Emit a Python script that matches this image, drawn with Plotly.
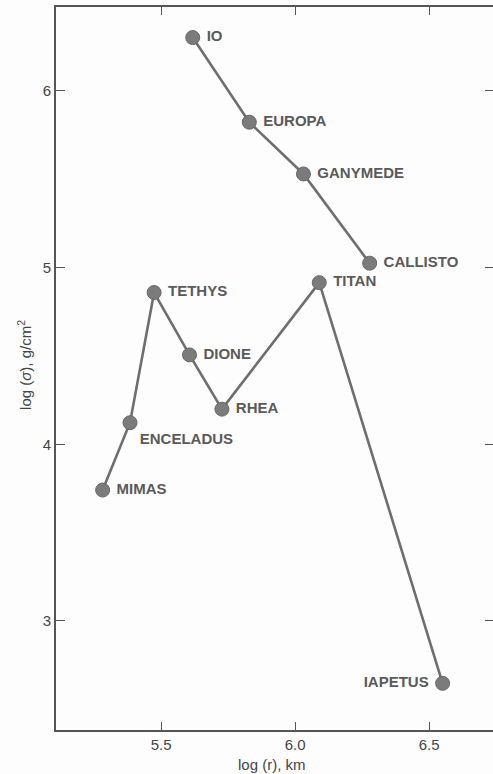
import plotly.graph_objects as go

# Jupiter satellites
jup_names = ["IO", "EUROPA", "GANYMEDE", "CALLISTO"]
jup_logr = [5.618, 5.829, 6.031, 6.278]
jup_logsigma = [6.302, 5.823, 5.530, 5.025]

# Saturn satellites
sat_names = ["MIMAS", "ENCELADUS", "TETHYS", "DIONE", "RHEA", "TITAN", "IAPETUS"]
sat_logr = [5.282, 5.384, 5.474, 5.606, 5.727, 6.090, 6.550]
sat_logsigma = [3.741, 4.122, 4.859, 4.506, 4.199, 4.915, 2.647]

x_ticks = [5.5, 6.0, 6.5]
x_tick_labels = ["5.5", "6.0", "6.5"]
y_ticks = [3, 4, 5, 6]
y_tick_labels = ["3", "4", "5", "6"]

jup_textpos = ["middle right"] * 4
sat_textpos = ["middle right", "bottom right", "middle right", "middle right",
               "middle right", "middle right", "middle left"]

LINE = "#6e6e6e"
MARK = "#7b7b7b"
TEXT = "#5a5a5a"
FONT = "Liberation Sans"

fig = go.Figure()
for xs, ys, names, tp in [(jup_logr, jup_logsigma, jup_names, jup_textpos),
                          (sat_logr, sat_logsigma, sat_names, sat_textpos)]:
    fig.add_trace(go.Scatter(
        x=xs, y=ys, mode="lines+markers+text",
        text=[(" " + n + " ") if p != "bottom right" else n for n, p in zip(names, tp)],
        textposition=tp,
        textfont=dict(family=FONT, size=15, color=TEXT, weight="bold"),
        line=dict(color=LINE, width=2.6),
        marker=dict(size=14, color=MARK, line=dict(color="#686868", width=1)),
        showlegend=False, cliponaxis=False,
    ))

# invisible trace for right-side ticks
fig.add_trace(go.Scatter(x=[jup_logr[0]], y=[jup_logsigma[0]], yaxis="y2",
                         mode="markers", marker=dict(opacity=0), showlegend=False,
                         hoverinfo="skip"))

xr = [5.108, 6.738]
yr = [2.383, 6.475]

fig.update_layout(
    width=493, height=774,
    margin=dict(l=56, r=0, t=7, b=44),
    paper_bgcolor="#fdfdfd", plot_bgcolor="#fdfdfd",
    font=dict(family=FONT, color="#444444", size=14),
    xaxis=dict(range=xr, tickvals=x_ticks, ticktext=x_tick_labels,
               ticks="inside", ticklen=8, tickwidth=1.3, tickcolor="#555",
               showline=True, linecolor="#555", linewidth=1.6, mirror="ticks",
               showgrid=False, zeroline=False, automargin=False,
               tickfont=dict(size=15, color="#444")),
    yaxis=dict(range=yr, tickvals=y_ticks, ticktext=y_tick_labels,
               ticks="inside", ticklen=9, tickwidth=1.3, tickcolor="#555",
               showline=True, linecolor="#555", linewidth=1.6, mirror=False,
               showgrid=False, zeroline=False, automargin=False,
               tickfont=dict(size=15, color="#444")),
    yaxis2=dict(range=yr, tickvals=y_ticks, ticks="inside", ticklen=8, tickwidth=1.3,
                tickcolor="#555", showticklabels=False, showline=False, showgrid=False,
                zeroline=False, overlaying="y", side="right", automargin=False),
    annotations=[
        dict(text="log (r), km", xref="paper", yref="paper", x=0.495, y=0,
             yshift=-24, xanchor="center", yanchor="top", showarrow=False,
             font=dict(size=15, color="#444")),
        dict(text="log (<i>σ</i>), g/cm<sup>2</sup>", xref="paper", yref="paper",
             x=0, y=0.505, xshift=-31, xanchor="center", yanchor="middle",
             textangle=-90, showarrow=False, font=dict(size=15, color="#444")),
    ],
)

fig.write_html("out.html", config={"displayModeBar": False},
               post_script="document.body.style.margin='0';document.body.style.overflow='hidden';")
